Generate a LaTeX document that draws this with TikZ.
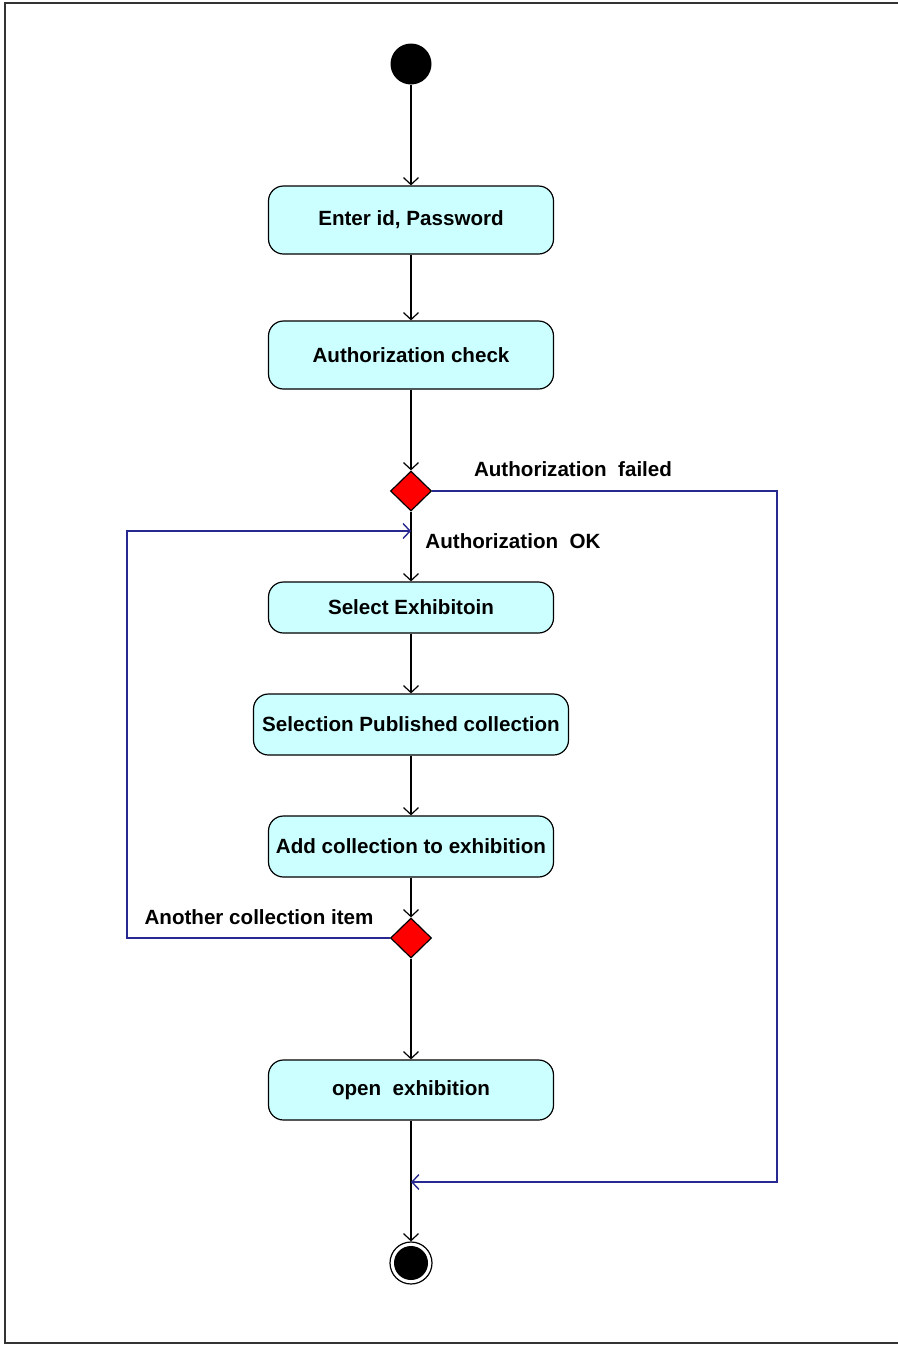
\documentclass[tikz,border=0pt]{standalone}
\usepackage{fontspec}
\setmainfont{Liberation Sans}
\usetikzlibrary{shapes.geometric,arrows.meta}
\definecolor{actfill}{RGB}{204,255,255}
\definecolor{guardblue}{RGB}{40,40,145}

\begin{document}
\begin{tikzpicture}[x=0.5pt, y=-0.5pt, >={Straight Barb[length=3.5pt,width=7.5pt]}]
			\tikzstyle{activity}=[draw, line width=0.6pt, rounded corners=7.5pt, fill=actfill, minimum width=142.5pt, inner sep=0pt, font=\fontsize{10.3}{12}\selectfont\bfseries]
			\tikzstyle{decision}=[draw, diamond, aspect=1, line width=0.6pt, fill=red, minimum width=20.5pt, minimum height=20pt, inner sep=0pt]
			\tikzstyle{guard}=[font=\fontsize{10.3}{12}\selectfont\bfseries]
			\tikzstyle{flow}=[->, line width=0.6pt]
			\tikzstyle{back}=[->, draw=guardblue, line width=0.7pt]
			\useasboundingbox (0,0) rectangle (898,1345);
			\draw[black!80, line width=0.8pt] (5,3) rectangle (910,1343);
			\node[circle, fill=black, minimum size=20.5pt, inner sep=0pt] (START) at (411,64) {};
			\node[activity, minimum height=34pt] (ENTER) at (411,220) {Enter id, Password};
			\node[activity, minimum height=34pt] (AUTH) at (411,355) {Authorization check};
			\node[decision] (CHECK) at (411,491) {};
			\node[activity, minimum height=25.5pt] (SELECT) at (411,607.5) {Select Exhibitoin};
			\node[activity, minimum height=30.5pt, minimum width=157.5pt] (PUBLISH) at (411,724.5) {Selection Published collection};
			\node[activity, minimum height=30.5pt] (ADD) at (411,846.5) {Add collection to exhibition};
			\node[decision] (MORE) at (411,938) {};
			\node[activity, minimum height=30pt] (OPEN) at (411,1090) {open~~exhibition};
			\node[circle, draw, line width=0.6pt, fill=white, minimum size=21pt, inner sep=0pt] (END) at (411,1263) {};
			\node[circle, fill=black, minimum size=17pt, inner sep=0pt] at (END) {};
			\coordinate (FAILCORNER) at (777,491);
			\coordinate (JOIN) at (411,1182);
			\coordinate (LOOPCORNER) at (127,938);
			\coordinate (LOOPIN) at (411,531);
			\node[guard] (FAILED) at (573,469) {Authorization~~failed};
			\node[guard] (OK) at (513,541) {Authorization~~OK};
			\node[guard] (AGAIN) at (259,917) {Another collection item};
			\draw[flow] (START) -- (ENTER);
			\draw[flow] (ENTER) -- (AUTH);
			\draw[flow] (AUTH) -- (CHECK);
			\draw[flow] (CHECK) -- (SELECT);
			\draw[flow] (SELECT) -- (PUBLISH);
			\draw[flow] (PUBLISH) -- (ADD);
			\draw[flow] (ADD) -- (MORE);
			\draw[flow] (MORE) -- (OPEN);
			\draw[flow] (OPEN) -- (END);
			\draw[back] (CHECK.east) -- (FAILCORNER) |- (JOIN);
			\draw[back] (MORE.west) -- (LOOPCORNER) |- (LOOPIN);
		\end{tikzpicture}
\end{document}
